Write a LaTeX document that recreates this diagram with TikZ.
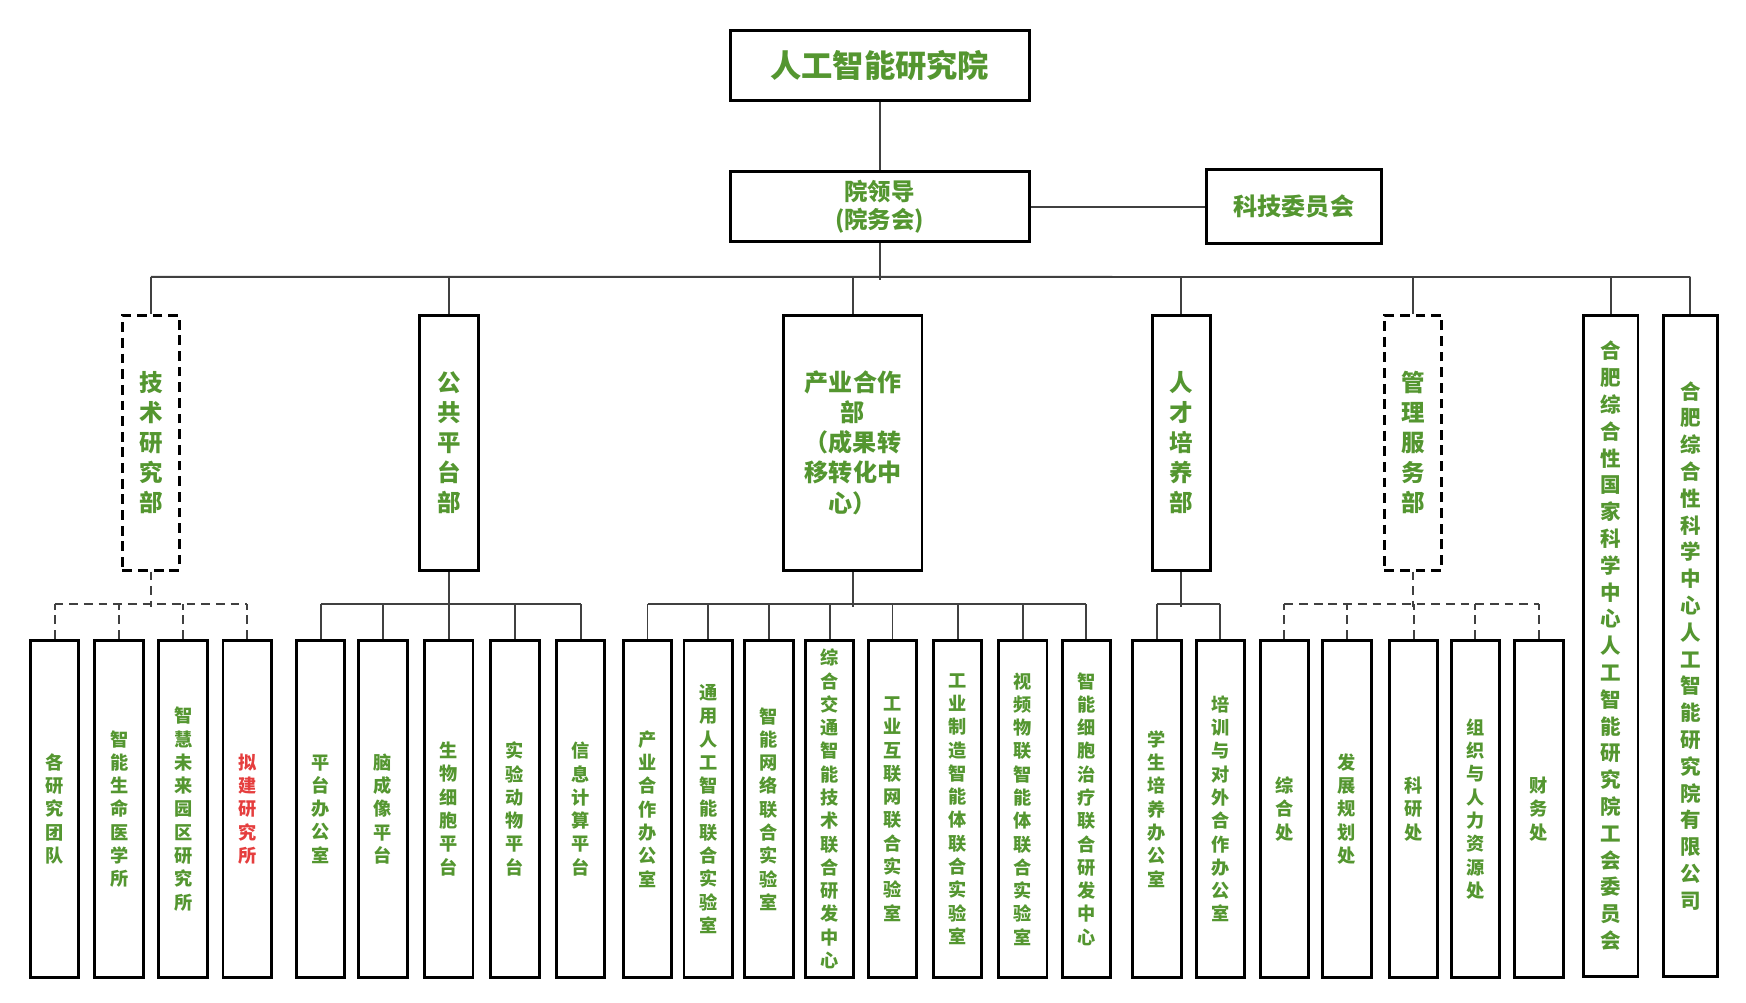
\documentclass[tikz,border=0pt]{standalone}
\usepackage{fontspec}
\setmainfont{Noto Sans CJK SC}
\usepackage{tikz}
\XeTeXlinebreaklocale "zh"
\XeTeXlinebreakskip=0pt plus 1pt
\definecolor{grn}{RGB}{84,150,48}
\definecolor{lred}{RGB}{229,62,62}

\begin{document}
\begin{tikzpicture}[x=0.02cm, y=-0.02cm,
    every node/.style = {shape=rectangle, draw, line width=1.5pt, align=center, inner sep=0pt, text=grn, font=\bfseries},
    unit/.style = {minimum width=0.87cm, minimum height=6.06cm, text width=10pt, font=\bfseries\fontsize{9.3}{11.9}\selectfont},
    dept/.style = {minimum height=4.58cm, text width=13pt, font=\bfseries\fontsize{12}{15.3}\selectfont},
    long/.style = {minimum width=0.98cm, minimum height=11.88cm, text width=11pt, font=\bfseries\fontsize{10.5}{13.7}\selectfont},
    dbox/.style = {dash pattern=on 5pt off 3pt},
    link/.style = {draw=black!75, line width=1pt},
    dlink/.style = {link, dash pattern=on 4.5pt off 3pt}]
  \useasboundingbox (0,0) rectangle (1568,900);

  \node[minimum width=5.37cm, minimum height=1.26cm, font=\bfseries\fontsize{16}{19}\selectfont] (inst) at (790,58.5) {人工智能研究院};
  \node[minimum width=5.37cm, minimum height=1.26cm, font=\bfseries\fontsize{12}{14.5}\selectfont] (lead) at (790,185.5) {院领导\\(院务会)};
  \node[minimum width=3.13cm, minimum height=1.32cm, font=\bfseries\fontsize{12.3}{15}\selectfont] (sci) at (1162,185.5) {科技委员会};

  \node[dept, dbox, minimum width=1.02cm] (tech) at (135.5,397.5) {技术研究部};
  \node[dept, minimum width=1.06cm] (plat) at (403.5,397.5) {公共平台部};
  \node[dept, minimum width=2.48cm, text width=2.2cm, font=\bfseries\fontsize{12.3}{15.4}\selectfont] (ind) at (766,397.5) {产业合作\\部\\（成果转\\移转化中\\心）};
  \node[dept, minimum width=1.04cm] (tal) at (1061,397.5) {人才培养部};
  \node[dept, dbox, minimum width=1.03cm] (mgmt) at (1269,397.5) {管理服务部};
  \node[long] (union) at (1446.5,580) {合肥综合性国家科学中心人工智能研究院工会委员会};
  \node[long] (corp) at (1518,580) {合肥综合性科学中心人工智能研究院有限公司};

  \foreach \x/\t [count=\i] in {49/各研究团队, 107/智能生命医学所, 164.5/智慧未来园区研究所}
    \node[unit] (tech\i) at (\x,726.5) {\t};
  \node[unit, text=lred] (tech4) at (222,726.5) {拟建研究所};
  \foreach \x/\t [count=\i] in {288/平台办公室, 344/脑成像平台, 403/生物细胞平台, 462.5/实验动物平台, 521.5/信息计算平台}
    \node[unit] (plat\i) at (\x,726.5) {\t};
  \foreach \x/\t [count=\i] in {581.5/产业合作办公室, 636/通用人工智能联合实验室, 690.5/智能网络联合实验室, 745/综合交通智能技术联合研发中心, 801.5/工业互联网联合实验室, 860/工业制造智能体联合实验室, 918.5/视频物联智能体联合实验室, 975.5/智能细胞治疗联合研发中心}
    \node[unit] (ind\i) at (\x,726.5) {\t};
  \foreach \x/\t [count=\i] in {1039/学生培养办公室, 1096/培训与对外合作办公室}
    \node[unit] (tal\i) at (\x,726.5) {\t};
  \foreach \x/\t [count=\i] in {1153.5/综合处, 1209.5/发展规划处, 1269.5/科研处, 1325/组织与人力资源处, 1382/财务处}
    \node[unit] (mgmt\i) at (\x,726.5) {\t};

  \draw[link] (inst) -- (lead);
  \draw[link] (lead) -- (sci);
  \draw[link] (lead.south) -- ++(0,33);
  \draw[link] ([yshift=0.66cm]tech.north) -- ([yshift=0.66cm]corp.north);
  \foreach \d in {tech,plat,ind,tal,mgmt,union,corp}
    \draw[link] (\d.north) -- ++(0,-33);

  \foreach \g/\n/\s in {tech/4/dlink, plat/5/link, ind/8/link, tal/2/link, mgmt/5/dlink} {
    \draw[\s] (\g.south) -- ++(0,32);
    \draw[\s] ([yshift=0.62cm]\g1.north) -- ([yshift=0.62cm]\g\n.north);
    \foreach \i in {1,...,\n}
      \draw[\s] (\g\i.north) -- ++(0,-31);
  }
\end{tikzpicture}
\end{document}
